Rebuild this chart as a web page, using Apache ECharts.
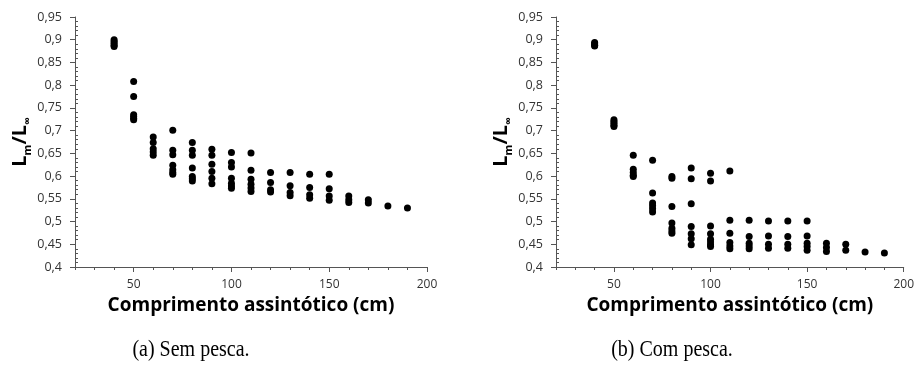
<!DOCTYPE html>
<html>
<head>
<meta charset="utf-8">
<script src="https://cdn.jsdelivr.net/npm/echarts@6/dist/echarts.min.js"></script>
<style>
  html, body { margin: 0; padding: 0; background: #fff; }
  #chart { width: 917px; height: 365px; }
</style>
</head>
<body>
<div id="chart"></div>
<script>
// Asymptotic length of each simulated stock (cm)
const comprimentos = [40, 50, 60, 70, 80, 90, 100, 110, 120, 130, 140, 150, 160, 170, 180, 190];

// Lm / Linf ratios per asymptotic length, without fishing
const semPesca = [
  [0.900, 0.896, 0.892, 0.888, 0.885],
  [0.808, 0.775, 0.735, 0.731, 0.727, 0.724],
  [0.686, 0.674, 0.660, 0.653, 0.646],
  [0.701, 0.657, 0.647, 0.624, 0.614, 0.608, 0.604],
  [0.674, 0.657, 0.646, 0.618, 0.599, 0.594, 0.589],
  [0.659, 0.646, 0.626, 0.610, 0.595, 0.583],
  [0.652, 0.630, 0.620, 0.595, 0.584, 0.578, 0.573],
  [0.651, 0.613, 0.593, 0.582, 0.574, 0.566],
  [0.608, 0.586, 0.570, 0.565],
  [0.608, 0.579, 0.564, 0.557],
  [0.604, 0.575, 0.559, 0.551],
  [0.604, 0.572, 0.556, 0.547],
  [0.556, 0.548, 0.542],
  [0.548, 0.541],
  [0.534],
  [0.530]
];

// Lm / Linf ratios per asymptotic length, with fishing
const comPesca = [
  [0.894, 0.891, 0.888, 0.886],
  [0.724, 0.720, 0.716, 0.712, 0.709],
  [0.646, 0.615, 0.608, 0.602, 0.599],
  [0.635, 0.563, 0.541, 0.535, 0.528, 0.521],
  [0.599, 0.595, 0.533, 0.497, 0.485, 0.479, 0.474],
  [0.618, 0.594, 0.539, 0.489, 0.473, 0.462, 0.449],
  [0.606, 0.589, 0.490, 0.473, 0.461, 0.455, 0.449, 0.445],
  [0.611, 0.503, 0.474, 0.454, 0.446, 0.440],
  [0.503, 0.467, 0.452, 0.446, 0.440],
  [0.501, 0.468, 0.450, 0.441],
  [0.501, 0.467, 0.450, 0.441],
  [0.501, 0.468, 0.452, 0.445, 0.437],
  [0.452, 0.443, 0.434],
  [0.450, 0.437],
  [0.433],
  [0.431]
];

const xTicksMaiores = [50, 100, 150, 200];
const legendas = ['(a) Sem pesca.', '(b) Com pesca.'];
const tituloX = 'Comprimento assintótico (cm)';

function pares(colunas) {
  const out = [];
  colunas.forEach((vals, i) => vals.forEach(v => out.push([comprimentos[i], v])));
  return out;
}

const sansFont = '"Open Sans", "Noto Sans", sans-serif';
const serifFont = '"Liberation Serif", "DejaVu Serif", serif';
const axisColor = '#555';
const labelColor = '#333';

const grids = [
  { left: 75, right: 490, top: 17, bottom: 98 },
  { left: 556, right: 10, top: 17, bottom: 98 }
];

const xAxes = [];
const yAxes = [];
grids.forEach((g, gi) => {
  // main x axis: minor ticks every 10 cm, labels on multiples of 50
  xAxes.push({
    type: 'value', gridIndex: gi, min: 20, max: 200, interval: 10,
    name: tituloX, nameLocation: 'middle', nameGap: 24,
    nameTextStyle: { fontFamily: sansFont, fontWeight: 'bold', fontSize: 19, color: '#000' },
    axisLine: { lineStyle: { color: axisColor, width: 1 } },
    axisTick: { show: true, length: 3, lineStyle: { color: axisColor } },
    axisLabel: {
      color: labelColor, fontFamily: sansFont, fontSize: 12, margin: 12,
      formatter: v => (v % 50 === 0 ? String(v) : '')
    },
    splitLine: { show: false }
  });
  // overlay axis carrying the longer ticks at multiples of 50
  xAxes.push({
    type: 'value', gridIndex: gi, min: 20, max: 200, position: 'bottom',
    axisLine: { show: false },
    axisTick: { show: true, length: 5, customValues: xTicksMaiores, lineStyle: { color: axisColor } },
    axisLabel: { show: false },
    splitLine: { show: false }
  });
  // main y axis: labels and outward ticks every 0.05
  yAxes.push({
    type: 'value', gridIndex: gi, min: 0.4, max: 0.95, interval: 0.05,
    name: '{b|L}{s|m}{b|/L}{s|∞}', nameLocation: 'middle', nameGap: 42, nameRotate: 90,
    nameTextStyle: {
      rich: {
        b: { fontFamily: sansFont, fontWeight: 'bold', fontSize: 20, color: '#000', lineHeight: 22, verticalAlign: 'bottom' },
        s: { fontFamily: sansFont, fontWeight: 'bold', fontSize: 11, color: '#000', lineHeight: 22, verticalAlign: 'bottom', padding: [0, 0, -3, 0] }
      }
    },
    axisLine: { show: true, lineStyle: { color: axisColor, width: 1 } },
    axisTick: { show: true, length: 5, lineStyle: { color: axisColor } },
    axisLabel: {
      color: labelColor, fontFamily: sansFont, fontSize: 12.5, margin: 13,
      formatter: v => String(+v.toFixed(2)).replace('.', ',')
    },
    splitLine: { show: false }
  });
  // overlay y axis carrying the inward minor ticks every 0.01
  yAxes.push({
    type: 'value', gridIndex: gi, min: 0.4, max: 0.95, interval: 0.05, position: 'left', offset: 0,
    axisLine: { show: false },
    axisTick: { show: false, inside: true },
    minorTick: { show: true, splitNumber: 5, length: 3, lineStyle: { color: axisColor } },
    axisLabel: { show: false },
    splitLine: { show: false }
  });
});

const series = [semPesca, comPesca].map((cols, gi) => ({
  type: 'scatter',
  xAxisIndex: gi * 2,
  yAxisIndex: gi * 2,
  symbol: 'circle',
  symbolSize: 7,
  itemStyle: { color: '#000', opacity: 1 },
  data: pares(cols)
}));

const chart = echarts.init(document.getElementById('chart'), null, { renderer: 'canvas' });
chart.setOption({
  backgroundColor: '#fff',
  animation: false,
  grid: grids,
  xAxis: xAxes,
  yAxis: yAxes,
  series: series,
  graphic: [
    { type: 'text', x: 191, y: 350, scaleY: 1.2, style: { text: legendas[0], fontFamily: serifFont, fontSize: 20, fill: '#000', align: 'center', verticalAlign: 'middle' } },
    { type: 'text', x: 672, y: 350, scaleY: 1.2, style: { text: legendas[1], fontFamily: serifFont, fontSize: 20, fill: '#000', align: 'center', verticalAlign: 'middle' } }
  ]
});
</script>
</body>
</html>
